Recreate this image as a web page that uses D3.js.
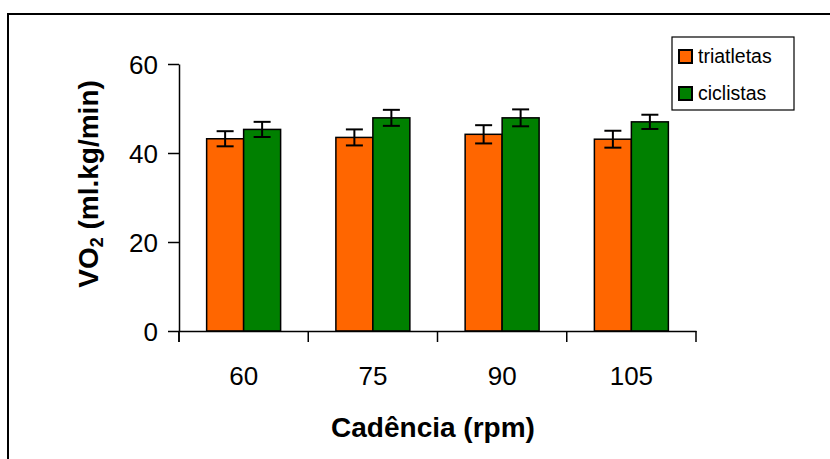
<!DOCTYPE html>
<html>
<head>
<meta charset="utf-8">
<script src="https://cdn.jsdelivr.net/npm/d3@7"></script>
<style>
  body { margin: 0; background: #fff; }
  text { font-family: "Liberation Sans", Arial, sans-serif; }
</style>
</head>
<body>
<div class="canvas"></div>
<script>

// data
var categories = ["60", "75", "90", "105"];
var seriesNames = ["triatletas", "ciclistas"];
var triatletas = [43.2, 43.5, 44.2, 43.1];
var ciclistas = [45.3, 47.9, 47.9, 47.0];
var triatletasErr = [1.7, 1.8, 2.05, 1.9];
var ciclistasErr = [1.7, 1.8, 1.9, 1.6];
var yTicks = [0, 20, 40, 60];

var colors = { triatletas: "#ff6600", ciclistas: "#008000" };

var width = 830, height = 459;

var svg = d3.select(".canvas")
  .append("svg")
  .attr("width", width)
  .attr("height", height);

// outer frame (cut off on the right and bottom)
svg.append("rect")
  .attr("x", 8).attr("y", 14)
  .attr("width", 840).attr("height", 470)
  .attr("fill", "none")
  .attr("stroke", "#000")
  .attr("stroke-width", 2);

var y = d3.scaleLinear().domain([0, 60]).range([331, 64]);

var x0 = d3.scaleBand().domain(categories).range([179, 696]).padding(0);
var x1 = d3.scaleBand().domain(seriesNames)
  .range([0, x0.bandwidth()])
  .paddingInner(0).paddingOuter(0.747);

var rows = categories.map(function(c, i) {
  return {
    cat: c,
    values: [
      { name: "triatletas", v: triatletas[i], e: triatletasErr[i] },
      { name: "ciclistas", v: ciclistas[i], e: ciclistasErr[i] }
    ]
  };
});

var groups = svg.append("g").selectAll("g")
  .data(rows)
  .enter().append("g")
  .attr("transform", function(d) { return "translate(" + x0(d.cat) + ",0)"; });

groups.selectAll("rect")
  .data(function(d) { return d.values; })
  .enter().append("rect")
  .attr("x", function(d) { return x1(d.name); })
  .attr("y", function(d) { return y(d.v); })
  .attr("width", x1.bandwidth())
  .attr("height", function(d) { return y(0) - y(d.v); })
  .attr("fill", function(d) { return colors[d.name]; })
  .attr("stroke", "#000")
  .attr("stroke-width", 1.5);

// error bars
var cap = 8.5;
var err = groups.selectAll("g.err")
  .data(function(d) { return d.values; })
  .enter().append("g")
  .attr("class", "err")
  .attr("stroke", "#000")
  .attr("stroke-width", 2);

err.append("line")
  .attr("x1", function(d) { return x1(d.name) + x1.bandwidth() / 2; })
  .attr("x2", function(d) { return x1(d.name) + x1.bandwidth() / 2; })
  .attr("y1", function(d) { return y(d.v + d.e); })
  .attr("y2", function(d) { return y(d.v - d.e); });

err.selectAll("line.cap")
  .data(function(d) { return [d.v + d.e, d.v - d.e].map(function(v) { return { name: d.name, v: v }; }); })
  .enter().append("line")
  .attr("class", "cap")
  .attr("x1", function(d) { return x1(d.name) + x1.bandwidth() / 2 - cap; })
  .attr("x2", function(d) { return x1(d.name) + x1.bandwidth() / 2 + cap; })
  .attr("y1", function(d) { return y(d.v); })
  .attr("y2", function(d) { return y(d.v); });

// y axis
var yAxis = svg.append("g")
  .attr("transform", "translate(179,0)")
  .call(d3.axisLeft(y).tickValues(yTicks).tickSize(11).tickPadding(10).tickSizeOuter(0));
yAxis.select(".domain").attr("stroke-width", 1.5);
yAxis.selectAll(".tick line").attr("stroke-width", 1.5);
yAxis.selectAll("text")
  .attr("font-size", 26)
  .attr("fill", "#000")
  .attr("dy", "0.36em");
// axis runs a bit below zero
svg.append("line")
  .attr("x1", 179).attr("x2", 179)
  .attr("y1", y(0)).attr("y2", y(0) + 11)
  .attr("stroke", "#000").attr("stroke-width", 1.5);

// x axis: ticks at category boundaries, labels at centres
var xAxis = svg.append("g")
  .attr("transform", "translate(0," + y(0) + ")")
  .call(d3.axisBottom(x0).tickSize(0).tickPadding(36).tickSizeOuter(0));
xAxis.select(".domain").attr("stroke-width", 1.5);
xAxis.selectAll("text")
  .attr("font-size", 26)
  .attr("fill", "#000");

var bounds = categories.map(function(c) { return x0(c); }).concat([x0.range()[1]]);
xAxis.selectAll("line.bound")
  .data(bounds)
  .enter().append("line")
  .attr("class", "bound")
  .attr("x1", function(d) { return d; })
  .attr("x2", function(d) { return d; })
  .attr("y1", 0).attr("y2", 11)
  .attr("stroke", "#000").attr("stroke-width", 1.5);

// axis titles
svg.append("text")
  .attr("x", 433).attr("y", 437)
  .attr("text-anchor", "middle")
  .attr("font-size", 28)
  .attr("font-weight", "bold")
  .text("Cadência (rpm)");

var yTitle = svg.append("text")
  .attr("transform", "translate(98,184) rotate(-90)")
  .attr("text-anchor", "middle")
  .attr("font-size", 28)
  .attr("font-weight", "bold");
yTitle.append("tspan").text("VO");
yTitle.append("tspan").attr("font-size", 18).attr("dy", 5).text("2");
yTitle.append("tspan").attr("dy", -5).text(" (ml.kg/min)");

// legend
var legend = svg.append("g");
legend.append("rect")
  .attr("x", 672).attr("y", 37)
  .attr("width", 122).attr("height", 73)
  .attr("fill", "#fff")
  .attr("stroke", "#000")
  .attr("stroke-width", 1.2);

var items = legend.selectAll("g.item")
  .data(seriesNames)
  .enter().append("g")
  .attr("class", "item")
  .attr("transform", function(d, i) { return "translate(679," + (50 + i * 37) + ")"; });

items.append("rect")
  .attr("width", 13).attr("height", 13)
  .attr("fill", function(d) { return colors[d]; })
  .attr("stroke", "#000")
  .attr("stroke-width", 2);

items.append("text")
  .attr("x", 19).attr("y", 13)
  .attr("font-size", 19.5)
  .attr("fill", "#000")
  .text(function(d) { return d; });

</script>
</body>
</html>
